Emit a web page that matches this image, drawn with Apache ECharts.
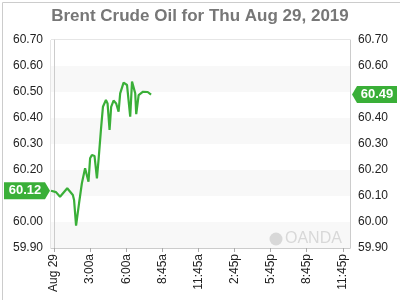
<!DOCTYPE html>
<html><head><meta charset="utf-8">
<script src="https://cdn.jsdelivr.net/npm/echarts@6/dist/echarts.min.js"></script>
<style>html,body{margin:0;padding:0;background:#fff}#c{width:400px;height:300px}</style>
</head><body><div id="c"></div>
<script>
// minutes since midnight (Aug 29)
var times = [-15,10,30,66,94,100,110,125,139,155,164,172,180,189,202,214,222,234,244,259,267,277,285,297,310,322,330,347,364,372,380,389,397,405,410,422,444,467,484];
var prices = [60.12,60.115,60.097,60.130,60.104,60.085,59.986,60.073,60.149,60.207,60.200,60.155,60.245,60.258,60.254,60.168,60.238,60.354,60.443,60.469,60.456,60.354,60.443,60.467,60.456,60.424,60.495,60.536,60.527,60.520,60.405,60.540,60.544,60.495,60.415,60.488,60.501,60.500,60.49];
var tickValues = [0,180,360,540,720,900,1080,1260,1440];
var tickLabels = ['Aug 29','3:00a','6:00a','8:45a','11:45a','2:45p','5:45p','8:45p','11:45p'];
var openLabel = '60.12', lastLabel = '60.49';

var green = '#3aaf38';
var chart = echarts.init(document.getElementById('c'), null, {renderer:'canvas'});
var yBase = {
  type:'value', min:59.9, max:60.7, interval:0.1,
  axisLine:{show:true, lineStyle:{color:'#cccccc'}},
  axisTick:{show:false},
  splitLine:{show:false},
  axisLabel:{color:'#222', fontFamily:'Liberation Sans, Arial', fontSize:12, formatter:function(v){return v.toFixed(2);}}
};
var data = times.map(function(t,i){return [t, prices[i]];});
chart.setOption({
  animation:false,
  title:{text:'Brent Crude Oil for Thu Aug 29, 2019', left:'center', top:3,
    textStyle:{color:'#777', fontSize:17, fontWeight:'bold', fontFamily:'Liberation Sans, Arial'}},
  grid:{left:51, right:50, top:40, bottom:52, show:true, borderColor:'#cccccc', borderWidth:1, backgroundColor:'transparent'},
  xAxis:{type:'value', min:-15, max:1476,
    axisLine:{show:true, lineStyle:{color:'#cccccc'}},
    axisTick:{show:true, length:4, lineStyle:{color:'#aaaaaa'}, customValues:tickValues},
    axisLabel:{rotate:90, color:'#222', fontSize:12, fontFamily:'Liberation Sans, Arial', margin:6,
      customValues:tickValues,
      formatter:function(v){var i=tickValues.indexOf(v);return i>=0?tickLabels[i]:'';}},
    splitLine:{show:false}},
  yAxis:[
    Object.assign({}, yBase, {position:'left', splitArea:{show:true, areaStyle:{color:['#f8f8f8','#ffffff']}}}),
    Object.assign({}, yBase, {position:'right', splitArea:{show:false}})
  ],
  series:[{type:'line', data:data, showSymbol:false, symbol:'none', lineStyle:{color:green, width:2.2}, yAxisIndex:0}]
});

function tags(){
  var yl = chart.convertToPixel({yAxisIndex:0}, prices[0]);
  var yr = chart.convertToPixel({yAxisIndex:0}, prices[prices.length-1]);
  var h = 17;
  chart.setOption({graphic:[
    {type:'rect', z:100, left:0, top:0, shape:{x:0,y:0,width:399,height:299}, style:{fill:'none', stroke:'#cccccc', lineWidth:1}, silent:true},
    {type:'polygon', z:100, shape:{points:[[4,yl-h/2],[45,yl-h/2],[50,yl],[45,yl+h/2],[4,yl+h/2]]}, style:{fill:green}},
    {type:'text', z:101, x:25, y:yl, style:{text:openLabel, fill:'#fff', font:'bold 13px Liberation Sans, Arial', align:'center', verticalAlign:'middle'}},
    {type:'polygon', z:100, shape:{points:[[352,yr],[357,yr-h/2],[397,yr-h/2],[397,yr+h/2],[357,yr+h/2]]}, style:{fill:green}},
    {type:'text', z:101, x:377, y:yr, style:{text:lastLabel, fill:'#fff', font:'bold 13px Liberation Sans, Arial', align:'center', verticalAlign:'middle'}},
    {type:'circle', z:1, shape:{cx:276, cy:239, r:6.5}, style:{fill:'#d8d8d8'}},
    {type:'text', z:1, x:285, y:239, style:{text:'OANDA', fill:'#d8d8d8', font:'16px Liberation Sans, Arial', verticalAlign:'middle'}}
  ]});
}
tags();
</script></body></html>
